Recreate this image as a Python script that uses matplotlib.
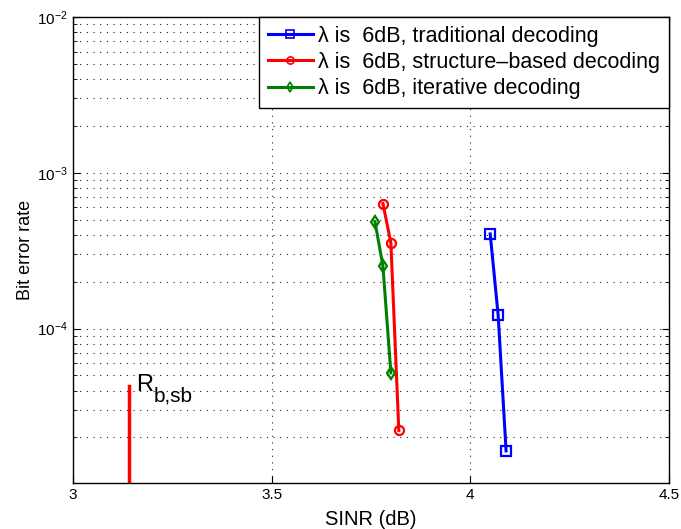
import numpy as np
import matplotlib

matplotlib.use("Agg")
import matplotlib.pyplot as plt
from matplotlib.ticker import LogLocator, NullFormatter

plt.rcParams["font.family"] = ["Liberation Sans", "DejaVu Sans"]

# SINR (dB) and BER for each decoder
sinr_trad = [4.05, 4.07, 4.09]
ber_trad = [4.05e-4, 1.22e-4, 1.64e-5]

sinr_struct = [3.78, 3.80, 3.82]
ber_struct = [6.35e-4, 3.55e-4, 2.22e-5]

sinr_iter = [3.76, 3.78, 3.80]
ber_iter = [4.85e-4, 2.52e-4, 5.2e-5]

labels = [
    "λ is  6dB, traditional decoding",
    "λ is  6dB, structure\u2013based decoding",
    "λ is  6dB, iterative decoding",
]

# R_b,sb marker
rate_x = 3.142
rate_top = 4.25e-5

fig = plt.figure(figsize=(6.81, 5.29), dpi=100)
ax = fig.add_axes([73 / 681, 1 - 483 / 529, (669 - 73) / 681, (483 - 17) / 529])

common = dict(lw=2.2, ms=6.5, mew=1.6, mfc="none")
ax.plot(sinr_trad, ber_trad, "s-", color="#0000ff", label=labels[0], **common)
ax.plot(sinr_struct, ber_struct, "o-", color="#ff0000", label=labels[1], **common)
ax.plot(sinr_iter, ber_iter, "d-", color="#008000", label=labels[2], **common)

ax.plot([rate_x, rate_x], [1e-6, rate_top], color="#ff0000", lw=2.5)
ax.text(3.1586, 4.0e-5, "R", fontsize=17, va="baseline", ha="left")
ax.text(3.204, 3.4e-5, "b,sb", fontsize=15, va="baseline", ha="left")

ax.set_yscale("log")
ax.set_xlim(3, 4.5)
ax.set_ylim(1.02e-5, 1e-2)
ax.set_xticks([3, 3.5, 4, 4.5])
ax.set_xticklabels(["3", "3.5", "4", "4.5"])
ax.yaxis.set_major_locator(LogLocator(base=10, numticks=10))
ax.yaxis.set_minor_locator(LogLocator(base=10, subs=np.arange(2, 10), numticks=20))
ax.yaxis.set_minor_formatter(NullFormatter())

dots = (0, (1, 5))
ax.grid(True, which="major", axis="both", ls=dots, color="#222222", lw=0.8)
ax.grid(True, which="minor", axis="y", ls=dots, color="#222222", lw=0.8)
ax.tick_params(which="both", direction="in", labelsize=11, top=True, right=True)
ax.tick_params(which="major", length=5)
ax.tick_params(which="minor", length=3)
for s in ax.spines.values():
    s.set_linewidth(1.0)

ax.set_xlabel("SINR (dB)", fontsize=14.5, labelpad=6)
ax.set_ylabel("Bit error rate", fontsize=13, labelpad=2)

leg = ax.legend(loc="upper right", borderaxespad=0, fontsize=15.5, fancybox=False,
                framealpha=1, edgecolor="black", handlelength=2.1,
                handletextpad=0.25, labelspacing=0.25, borderpad=0.4,
                markerscale=0.8)
leg.get_frame().set_linewidth(1.0)
for h in leg.legend_handles:
    h.set_markeredgewidth(1.2)

fig.savefig("out.png", dpi=100)
